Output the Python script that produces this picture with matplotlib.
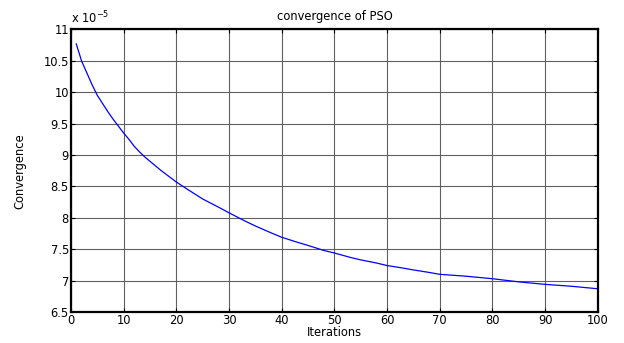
import numpy as np
import matplotlib
matplotlib.use("Agg")
import matplotlib.pyplot as plt
from matplotlib.ticker import FuncFormatter, MultipleLocator

# values (in units of 1e-5)
iterations = [1, 2, 3, 4, 5, 6, 7, 8, 9, 10, 11, 12, 13, 14, 15, 17, 20, 22,
              25, 28, 30, 33, 35, 38, 40, 43, 45, 48, 50, 53, 55, 58, 60, 63,
              65, 68, 70, 75, 80, 85, 90, 95, 100]
convergence = [10.77, 10.50, 10.31, 10.12, 9.95, 9.82, 9.69, 9.57, 9.46, 9.35,
               9.25, 9.14, 9.05, 8.97, 8.90, 8.76, 8.57, 8.46, 8.30, 8.17,
               8.08, 7.95, 7.87, 7.76, 7.69, 7.61, 7.56, 7.48, 7.44, 7.37,
               7.33, 7.28, 7.24, 7.20, 7.17, 7.13, 7.10, 7.07, 7.03, 6.98,
               6.94, 6.91, 6.87]
scale = 1e-5

plt.rcParams['font.family'] = ['DejaVu Sans']
fs = 8.3

fig = plt.figure(figsize=(6.24, 3.43), dpi=100)
ax = fig.add_axes([0.1138, 0.0904, 0.8442, 0.8236])

ax.plot(iterations, np.array(convergence) * scale, color='#0000ff', lw=0.9)

ax.set_xlim(0, 100)
ax.set_ylim(6.5 * scale, 11 * scale)
ax.xaxis.set_major_locator(MultipleLocator(10))
ax.yaxis.set_major_locator(MultipleLocator(0.5 * scale))
ax.yaxis.set_major_formatter(FuncFormatter(lambda v, p: '%g' % round(v / scale, 2)))

ax.grid(True, color='#606060', lw=0.8, ls='-')
ax.tick_params(direction='in', length=3, width=0.8, top=True, right=True,
               labelsize=fs, pad=1.5, color='black')
for sp in ax.spines.values():
    sp.set_linewidth(1.6)

ax.set_title('convergence of PSO', fontsize=fs, pad=7)
ax.set_xlabel('Iterations', fontsize=fs, labelpad=-1)
ax.set_ylabel('Convergence', fontsize=fs, labelpad=12)
ax.text(0.0, 1.01, 'x 10$^{-5}$', transform=ax.transAxes, fontsize=fs,
        ha='left', va='bottom')

fig.savefig('out.png', dpi=100)
